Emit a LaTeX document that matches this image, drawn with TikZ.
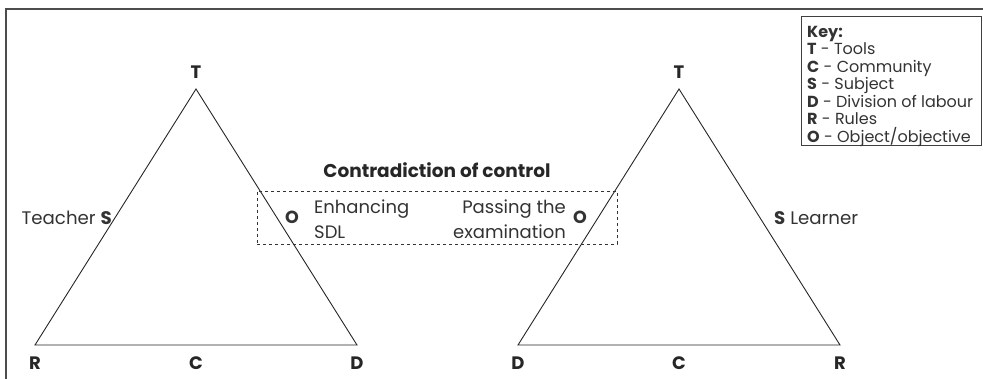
\documentclass[tikz,border=0pt]{standalone}
\usepackage{fontspec}
\setmainfont{Poppins}
\begin{document}
\begin{tikzpicture}[x=1pt,y=-1pt,
  edge/.style={line width=0.9pt, black!85},
  vlabel/.style={font=\fontsize{18}{20}\selectfont\bfseries, text=black!85, inner sep=0pt},
  body/.style={font=\fontsize{18.2}{21}\selectfont, text=black!80, inner sep=0pt},
  keyline/.style={font=\fontsize{16}{18}\selectfont, text=black!80, inner sep=0pt, anchor=base west},
  framecol/.style={draw=black!70, line width=1.4pt}]
\useasboundingbox (0,0) rectangle (983,379);

% outer frame (top and left edges)
\draw[framecol] (6,379) -- (6,9) -- (983,9);

% left activity triangle
\coordinate (lT) at (196,89);
\coordinate (lR) at (35,345);
\coordinate (lD) at (357,345);
\draw[edge] (lR) -- (lT) -- (lD) -- cycle;
% right activity triangle
\coordinate (rT) at (679,89);
\coordinate (rD) at (518,345);
\coordinate (rR) at (840,345);
\draw[edge] (rD) -- (rT) -- (rR) -- cycle;

% vertex labels
\node[vlabel] (lTl) at (196,72) {T};
\node[vlabel] (lRl) at (35,363.5) {R};
\node[vlabel] (lCl) at (196,363.5) {C};
\node[vlabel] (lDl) at (357,363.5) {D};
\node[vlabel] (rTl) at (679,72) {T};
\node[vlabel] (rDl) at (518,363.5) {D};
\node[vlabel] (rCl) at (679,363.5) {C};
\node[vlabel] (rRl) at (840,363.5) {R};

% subjects
\node[body, anchor=east] (teacher) at (112,218) {Teacher \textbf{S}};
\node[body, anchor=west] (learner) at (774,218) {\textbf{S} Learner};

% shared objects and the contradiction between them
\node[draw=black!80, dashed, line width=0.8pt, minimum width=360pt, minimum height=53pt, inner sep=0pt] (contra) at (437,217.5) {};
\node[body, font=\fontsize{18.5}{21}\selectfont\bfseries, text=black!85] (ctitle) at (437,170) {Contradiction of control};
\node[body, font=\fontsize{17.5}{19}\selectfont\bfseries] (lO) at (292,217) {O};
\node[body, anchor=west, align=left, font=\fontsize{18}{25}\selectfont] (lobj) at (314,219.5) {Enhancing\\SDL};
\node[body, font=\fontsize{17.5}{19}\selectfont\bfseries] (rO) at (580,217) {O};
\node[body, anchor=east, align=right, font=\fontsize{18}{25}\selectfont] (robj) at (566,219.5) {Passing the\\examination};

% key
\draw[draw=black!75, line width=1pt] (801,16.5) rectangle (981,146);
\node[keyline] (k0) at (807,37.5) {\textbf{Key:}};
\node[keyline] (k1) at (807,55) {\textbf{T} - Tools};
\node[keyline] (k2) at (807,72.5) {\textbf{C} - Community};
\node[keyline] (k3) at (807,90) {\textbf{S} - Subject};
\node[keyline] (k4) at (807,107.5) {\textbf{D} - Division of labour};
\node[keyline] (k5) at (807,125) {\textbf{R} - Rules};
\node[keyline] (k6) at (807,142.5) {\textbf{O} - Object/objective};
\end{tikzpicture}
\end{document}
